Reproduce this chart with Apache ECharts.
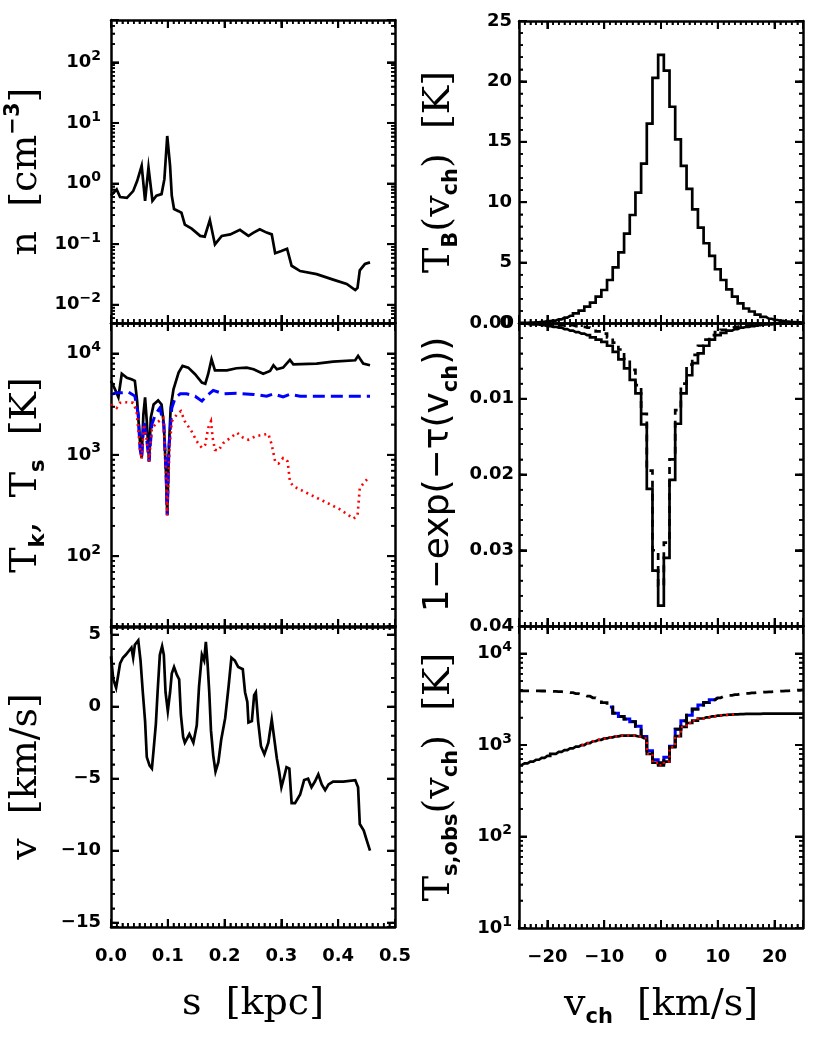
<!DOCTYPE html>
<html>
<head>
<meta charset="utf-8">
<script src="https://cdn.jsdelivr.net/npm/echarts/dist/echarts.min.js"></script>
</head>
<body style="margin:0">
<div id="chart" style="width:830px;height:1039px"></div>
<script>
// ---- left column: profiles along the sightline, s [kpc] ----
const nProfile = [
  [0, 0.63], [0.010, 0.8], [0.016, 0.6], [0.028, 0.58], [0.039, 0.75], [0.046, 1.1],
  [0.054, 1.96], [0.060, 0.52], [0.066, 1.84], [0.073, 0.52], [0.080, 0.63], [0.089, 0.67],
  [0.094, 1.18], [0.099, 6.1], [0.104, 1.96], [0.107, 0.63], [0.111, 0.38], [0.119, 0.35],
  [0.124, 0.33], [0.130, 0.21], [0.142, 0.18], [0.157, 0.137], [0.165, 0.133], [0.174, 0.25],
  [0.183, 0.099], [0.195, 0.137], [0.210, 0.145], [0.227, 0.172], [0.242, 0.137], [0.251, 0.155],
  [0.262, 0.176], [0.274, 0.155], [0.283, 0.145], [0.289, 0.071], [0.300, 0.077], [0.310, 0.084],
  [0.318, 0.044], [0.333, 0.036], [0.362, 0.032], [0.391, 0.026], [0.415, 0.022], [0.430, 0.0175],
  [0.434, 0.019], [0.438, 0.037], [0.447, 0.047], [0.456, 0.05]
];
const tKin = [
  [0, 5370], [0.007, 4440], [0.013, 3700], [0.019, 6320], [0.028, 5770], [0.036, 5560],
  [0.042, 5370], [0.046, 3390], [0.051, 1360], [0.054, 930], [0.057, 2500], [0.060, 3700],
  [0.063, 2140], [0.067, 860], [0.070, 2310], [0.075, 3140], [0.083, 3440], [0.089, 3140],
  [0.093, 2000], [0.097, 632], [0.099, 253], [0.102, 1170], [0.105, 2900], [0.110, 4440],
  [0.119, 6470], [0.126, 7540], [0.136, 7260], [0.148, 6240], [0.160, 5160], [0.166, 5030],
  [0.171, 6240], [0.177, 8780], [0.183, 6830], [0.204, 6830], [0.221, 7150], [0.239, 7260],
  [0.251, 6990], [0.268, 6320], [0.280, 6730], [0.286, 7660], [0.292, 6990], [0.303, 7260],
  [0.315, 8650], [0.321, 7830], [0.362, 7960], [0.391, 8330], [0.430, 8580], [0.435, 9480],
  [0.444, 7960], [0.456, 7660]
];
const tSpinBlue = [
  [0, 3950], [0.010, 4100], [0.019, 4100], [0.031, 4150], [0.042, 3800], [0.048, 2500],
  [0.051, 1160], [0.054, 930], [0.058, 2140], [0.062, 1580], [0.067, 860], [0.072, 2000],
  [0.078, 2500], [0.086, 2900], [0.093, 2000], [0.097, 632], [0.099, 253], [0.102, 1170],
  [0.107, 2900], [0.113, 3650], [0.122, 4000], [0.133, 4000], [0.148, 3790], [0.160, 3390],
  [0.168, 3800], [0.180, 4320], [0.198, 4000], [0.221, 4050], [0.251, 3950], [0.274, 3790],
  [0.286, 4000], [0.303, 3720], [0.315, 3950], [0.333, 3790], [0.456, 3790]
];
const tSpinRed = [
  [0, 3140], [0.010, 2900], [0.016, 3260], [0.028, 3300], [0.039, 3260], [0.045, 2700],
  [0.051, 1160], [0.054, 905], [0.058, 2000], [0.063, 1400], [0.067, 860], [0.072, 1820],
  [0.080, 2060], [0.092, 2310], [0.097, 632], [0.099, 253], [0.103, 1170], [0.107, 2140],
  [0.116, 2500], [0.123, 2700], [0.130, 2140], [0.142, 1700], [0.151, 1360], [0.160, 1170],
  [0.166, 1260], [0.171, 1840], [0.176, 2140], [0.179, 1470], [0.183, 1120], [0.189, 1100],
  [0.198, 1310], [0.210, 1470], [0.222, 1650], [0.233, 1470], [0.242, 1410], [0.254, 1520],
  [0.268, 1580], [0.277, 1610], [0.283, 1260], [0.289, 860], [0.295, 820], [0.303, 930],
  [0.311, 860], [0.315, 545], [0.321, 490], [0.345, 420], [0.374, 350], [0.403, 290],
  [0.427, 235], [0.434, 250], [0.438, 470], [0.447, 545], [0.453, 590]
];
const vProfile = [
  [0, 3.5], [0.004, 1.9], [0.009, 1.3], [0.016, 3.0], [0.021, 3.4], [0.026, 3.6], [0.032, 3.9],
  [0.036, 4.1], [0.039, 3.4], [0.042, 4.3], [0.048, 4.6], [0.052, 3.2], [0.056, 1.0], [0.060, -1.0],
  [0.063, -3.5], [0.068, -4.1], [0.072, -4.3], [0.075, -3.0], [0.079, -1.2], [0.082, 1.0],
  [0.086, 3.6], [0.090, 4.2], [0.093, 3.6], [0.096, 1.0], [0.100, -0.3], [0.104, 1.0],
  [0.107, 2.3], [0.111, 2.75], [0.116, 2.2], [0.120, 1.9], [0.123, -0.55], [0.127, -2.1],
  [0.130, -2.5], [0.138, -1.9], [0.145, -2.5], [0.151, -1.3], [0.155, 1.4], [0.160, 3.6],
  [0.164, 3.2], [0.167, 4.5], [0.170, 3.0], [0.173, 1.0], [0.176, -1.65], [0.180, -3.4],
  [0.184, -4.5], [0.189, -3.85], [0.194, -2.3], [0.201, -0.8], [0.207, 1.4], [0.212, 3.4],
  [0.218, 3.2], [0.224, 2.75], [0.232, 2.6], [0.236, 1.0], [0.240, 0.33], [0.242, -1.1],
  [0.248, -1.0], [0.252, 0.8], [0.255, 1.0], [0.259, -1.0], [0.264, -2.75], [0.270, -3.3],
  [0.277, -2.5], [0.283, -0.9], [0.287, -2.1], [0.292, -3.6], [0.296, -4.5], [0.300, -5.6],
  [0.305, -4.85], [0.309, -4.2], [0.314, -4.3], [0.318, -6.7], [0.324, -6.7], [0.333, -6.1],
  [0.340, -5.1], [0.347, -5.0], [0.353, -5.6], [0.359, -5.2], [0.365, -4.7], [0.371, -5.4],
  [0.377, -5.8], [0.383, -5.4], [0.391, -5.2], [0.409, -5.2], [0.430, -5.1], [0.435, -5.6],
  [0.438, -8.15], [0.445, -8.6], [0.450, -9.25], [0.456, -10.0]
];

// ---- right column: spectra on velocity channels ----
const vch = [-25, -24, -23, -22, -21, -20, -19, -18, -17, -16, -15, -14, -13, -12, -11, -10,
  -9, -8, -7, -6, -5, -4, -3, -2, -1, 0, 1, 2, 3, 4, 5, 6, 7, 8, 9, 10, 11, 12, 13, 14, 15,
  16, 17, 18, 19, 20, 21, 22, 23, 24, 25];
const tbSpec = [0.01, 0.02, 0.04, 0.06, 0.1, 0.15, 0.2, 0.3, 0.45, 0.6, 0.8, 1.02, 1.35, 1.68,
  2.18, 2.73, 3.56, 4.6, 5.85, 7.4, 8.94, 10.8, 13.2, 16.5, 20.3, 22.2, 20.9, 17.9, 15.2, 13.0,
  11.1, 9.4, 7.9, 6.6, 5.55, 4.45, 3.56, 2.79, 2.18, 1.63, 1.2, 0.95, 0.7, 0.5, 0.35, 0.25,
  0.18, 0.12, 0.08, 0.05, 0.03];
const absSolid = [0.0001, 0.0001, 0.0002, 0.0002, 0.0003, 0.0004, 0.0005, 0.0006, 0.0008,
  0.001, 0.0012, 0.0014, 0.0016, 0.0019, 0.0022, 0.0025, 0.003, 0.0038, 0.0048, 0.006, 0.0075,
  0.0093, 0.0134, 0.0219, 0.0327, 0.0373, 0.031, 0.0207, 0.0133, 0.0093, 0.0069, 0.0053, 0.004,
  0.003, 0.0022, 0.0016, 0.0013, 0.001, 0.0008, 0.0006, 0.0005, 0.0004, 0.0003, 0.0002, 0.0002,
  0.0001, 0.0001, 0.0001, 0.0001, 0.0001, 0.0001];
const absDashed = [0.0001, 0.0001, 0.0001, 0.0001, 0.0002, 0.0002, 0.0002, 0.0003, 0.0003,
  0.0003, 0.0004, 0.0005, 0.0006, 0.0008, 0.0011, 0.0014, 0.0019, 0.0026, 0.0035, 0.0047,
  0.0062, 0.0082, 0.012, 0.0195, 0.03, 0.0347, 0.029, 0.018, 0.0115, 0.008, 0.0055, 0.0042,
  0.003, 0.0022, 0.0016, 0.0012, 0.0009, 0.0007, 0.0005, 0.0004, 0.0003, 0.0003, 0.0002,
  0.0002, 0.0001, 0.0001, 0.0001, 0.0001, 0.0001, 0.0001, 0.0001];
const tsObsUpper = [3910, 3910, 3905, 3900, 3895, 3885, 3860, 3830, 3790, 3730, 3650, 3550,
  3420, 3280, 3120, 2900, 2600, 2230, 2050, 1920, 1800, 1600, 1240, 865, 690, 636, 734, 970,
  1490, 1840, 2120, 2470, 2730, 2920, 3120, 3280, 3400, 3490, 3560, 3620, 3670, 3710, 3750,
  3790, 3820, 3850, 3880, 3910, 3940, 3970, 4000];
const tsObsLower = [605, 630, 660, 690, 725, 760, 800, 840, 880, 920, 960, 1000, 1050, 1100,
  1140, 1180, 1215, 1245, 1265, 1270, 1265, 1240, 1190, 800, 640, 600, 660, 950, 1250, 1580,
  1740, 1850, 1950, 2010, 2060, 2100, 2130, 2150, 2165, 2175, 2185, 2190, 2195, 2200, 2200,
  2200, 2200, 2200, 2200, 2200, 2200];
const blueVch = [-9, 10];   // channel span of the blue overlay
const redVch = [-14, 13];   // channel span of the red overlay

// ---- tick label helpers ----
const FONT = 'DejaVu Sans';
const minus = v => String(v).replace('-', '\u2212');
const logLabel = v => {
  const e = Math.round(Math.log10(v));
  if (Math.abs(v / Math.pow(10, e) - 1) > 1e-6) return '';
  return '{b|10}{e|' + minus(e) + '}';
};
const tickRich = {
  b: { fontFamily: FONT, fontSize: 18, fontWeight: 'bold', lineHeight: 26, color: '#000' },
  e: { fontFamily: FONT, fontSize: 14, fontWeight: 'bold', lineHeight: 14, verticalAlign: 'top', color: '#000' }
};
const nameRich = {
  a: { fontFamily: 'DejaVu Serif', fontSize: 38, lineHeight: 46, color: '#000' },
  s: { fontFamily: 'DejaVu Sans', fontSize: 36, lineHeight: 46, color: '#000' },
  sub: { fontFamily: 'DejaVu Sans', fontSize: 21, fontWeight: 'bold', lineHeight: 21, verticalAlign: 'bottom', color: '#000' },
  sup: { fontFamily: 'DejaVu Sans', fontSize: 21, fontWeight: 'bold', lineHeight: 21, verticalAlign: 'top', color: '#000' }
};

const grids = [
  { left: 111, top: 20, width: 284, height: 303 },
  { left: 111, top: 323, width: 284, height: 304 },
  { left: 111, top: 626, width: 284, height: 301 },
  { left: 519, top: 21, width: 284, height: 302 },
  { left: 519, top: 323, width: 284, height: 303 },
  { left: 519, top: 626, width: 284, height: 302 }
].map(g => Object.assign({ outerBoundsMode: 'none', containLabel: false }, g));

function axis(g, pos, cfg, label) {
  const a = Object.assign({
    gridIndex: g, position: pos, type: 'value',
    axisLine: { show: true, onZero: false, lineStyle: { color: '#000', width: 2.5 } },
    axisTick: { show: true, inside: true, length: 8, lineStyle: { color: '#000', width: 2 } },
    minorTick: { show: true, splitNumber: cfg.minor || 5, length: 4, lineStyle: { color: '#000', width: 1.5 } },
    splitLine: { show: false },
    axisLabel: { show: false }
  }, cfg);
  if (label) {
    a.axisLabel = Object.assign({ show: true, color: '#000', fontFamily: FONT, fontSize: 18,
      fontWeight: 'bold', rich: tickRich }, label);
  }
  delete a.minor;
  return a;
}

const xAxes = [];
const yAxes = [];
function panel(g, xCfg, yCfg, xLabel, yLabel) {
  xAxes.push(axis(g, 'bottom', xCfg, xLabel));
  const xTop = Object.assign({}, xCfg); delete xTop.name;
  xAxes.push(axis(g, 'top', xTop, null));
  yAxes.push(axis(g, 'left', yCfg, yLabel));
  const yRight = Object.assign({}, yCfg); delete yRight.name;
  yAxes.push(axis(g, 'right', yRight, null));
}

const sAxis = { min: 0, max: 0.5, interval: 0.1, minor: 10 };
const vchAxis = { min: -25, max: 25, splitNumber: 5, minor: 10 };
const yName = (name, gap) => ({ name: name, nameLocation: 'middle', nameRotate: 90, nameGap: gap,
  nameTextStyle: { rich: nameRich } });

panel(0, sAxis, Object.assign({ type: 'log', min: 0.005, max: 500, minor: 9 },
  yName('{a|n  [cm}{sup|\u22123}{a|]}', 62)), null, { formatter: logLabel, margin: 10 });
panel(1, sAxis, Object.assign({ type: 'log', min: 20, max: 20000, minor: 9 },
  yName('{a|T}{sub|k}{a|,  T}{sub|s}{a|  [K]}', 62)), null, { formatter: logLabel, margin: 10 });
panel(2, Object.assign({ name: '{a|s  [kpc]}', nameLocation: 'middle', nameGap: 54,
  nameTextStyle: { rich: nameRich } }, sAxis),
  Object.assign({ min: -15.3, max: 5.6, splitNumber: 5, minor: 5 }, yName('{a|v  [km/s]}', 62)),
  { formatter: v => v.toFixed(1), margin: 20 },
  { formatter: v => (Math.abs(v % 5) < 1e-9 ? minus(v) : ''), margin: 10 });
panel(3, vchAxis, Object.assign({ min: 0, max: 25, interval: 5, minor: 5 },
  yName('{a|T}{sub|B}{a|(v}{sub|ch}{a|)  [K]}', 57)), null, { formatter: v => String(v), margin: 7 });
panel(4, vchAxis, Object.assign({ min: 0, max: 0.04, interval: 0.01, inverse: true, minor: 5 },
  yName('{s|1\u2212exp(\u2212\u03c4(v}{sub|ch}{s|))}', 57)), null, { formatter: v => v.toFixed(2), margin: 5 });
panel(5, Object.assign({ name: '{a|v}{sub|ch}{a|  [km/s]}', nameLocation: 'middle', nameGap: 54,
  nameTextStyle: { rich: nameRich } }, vchAxis),
  Object.assign({ type: 'log', min: 10, max: 20000, minor: 9 },
    yName('{a|T}{sub|s,obs}{a|(v}{sub|ch}{a|)  [K]}', 57)),
  { formatter: v => (v % 10 === 0 ? minus(v) : ''), margin: 20 },
  { formatter: logLabel, margin: 7 });

const pairs = (xs, ys) => xs.map((x, i) => [x, ys[i]]);
const span = (ys, r) => pairs(vch, ys).filter(p => p[0] >= r[0] && p[0] <= r[1]);

function line(g, data, color, width, type, step) {
  const s = {
    type: 'line', xAxisIndex: 2 * g, yAxisIndex: 2 * g, data: data,
    symbol: 'none', silent: true,
    lineStyle: { color: color, width: width, type: type || 'solid', cap: 'butt', join: 'miter' }
  };
  if (step) s.step = 'middle';
  return s;
}

const option = {
  animation: false,
  backgroundColor: '#fff',
  title: { text: '' },
  grid: grids,
  xAxis: xAxes,
  yAxis: yAxes,
  series: [
    line(0, nProfile, '#000', 2.7),
    line(1, tKin, '#000', 2.7),
    line(1, tSpinBlue, '#0000ff', 3, [12, 6]),
    line(1, tSpinRed, '#ff0000', 2.6, [2, 4]),
    line(2, vProfile, '#000', 2.7),
    line(3, pairs(vch, tbSpec), '#000', 2.7, 'solid', true),
    line(4, pairs(vch, absSolid), '#000', 2.7, 'solid', true),
    line(4, pairs(vch, absDashed), '#000', 2.7, [7, 6], true),
    line(5, span(tsObsUpper, blueVch), '#0000ff', 3, 'solid', true),
    line(5, pairs(vch, tsObsUpper), '#000', 2.8, [10, 7], true),
    line(5, pairs(vch, tsObsLower), '#000', 2.7, 'solid', true),
    line(5, span(tsObsLower, redVch), '#ff0000', 2.4, [2, 4], true)
  ]
};

const chart = echarts.init(document.getElementById('chart'));
chart.setOption(option);

// ---- inward tick marks on all four sides, placed with the chart's own axis scales ----
const steps = (a, b, st) => { const out = []; for (let i = 0; a + i * st <= b + 1e-9; i++) out.push(+(a + i * st).toFixed(6)); return out; };
const logMajor = (lo, hi) => steps(Math.ceil(Math.log10(lo)), Math.floor(Math.log10(hi)), 1).map(e => Math.pow(10, e));
const logMinor = (lo, hi) => {
  const out = [];
  for (let e = Math.floor(Math.log10(lo)); e <= Math.ceil(Math.log10(hi)); e++) {
    for (let m = 2; m <= 9; m++) { const v = m * Math.pow(10, e); if (v >= lo && v <= hi) out.push(v); }
  }
  return out;
};
const sMaj = steps(0, 0.5, 0.1), sMin = steps(0, 0.5, 0.01);
const vMaj = [-20, -10, 0, 10, 20], vMin = steps(-25, 25, 1);
const panelTicks = [
  { series: 0, xr: [0, 0.5], yr: [0.005, 500], xMaj: sMaj, xMin: sMin, yMaj: logMajor(0.005, 500), yMin: logMinor(0.005, 500) },
  { series: 1, xr: [0, 0.5], yr: [20, 20000], xMaj: sMaj, xMin: sMin, yMaj: logMajor(20, 20000), yMin: logMinor(20, 20000) },
  { series: 4, xr: [0, 0.5], yr: [-15.3, 5.6], xMaj: sMaj, xMin: sMin, yMaj: steps(-15, 5, 5), yMin: steps(-15, 5, 1) },
  { series: 5, xr: [-25, 25], yr: [0, 25], xMaj: vMaj, xMin: vMin, yMaj: steps(0, 25, 5), yMin: steps(0, 25, 1) },
  { series: 6, xr: [-25, 25], yr: [0, 0.04], xMaj: vMaj, xMin: vMin, yMaj: steps(0, 0.04, 0.01), yMin: steps(0, 0.04, 0.002) },
  { series: 8, xr: [-25, 25], yr: [10, 20000], xMaj: vMaj, xMin: vMin, yMaj: logMajor(10, 20000), yMin: logMinor(10, 20000) }
];
const tickEls = [];
function seg(x1, y1, x2, y2, w) {
  tickEls.push({ type: 'line', silent: true, z: 50,
    shape: { x1: x1, y1: y1, x2: x2, y2: y2 }, style: { stroke: '#000', lineWidth: w } });
}
try {
  panelTicks.forEach(p => {
    const px = v => chart.convertToPixel({ seriesIndex: p.series }, v);
    const xTick = (v, len, w) => {
      const a = px([v, p.yr[0]]), b = px([v, p.yr[1]]);
      const d = b[1] > a[1] ? 1 : -1;
      seg(a[0], a[1], a[0], a[1] + d * len, w);
      seg(b[0], b[1], b[0], b[1] - d * len, w);
    };
    const yTick = (v, len, w) => {
      const a = px([p.xr[0], v]), b = px([p.xr[1], v]);
      seg(a[0], a[1], a[0] + len, a[1], w);
      seg(b[0], b[1], b[0] - len, b[1], w);
    };
    p.xMaj.forEach(v => xTick(v, 8, 2));
    p.xMin.forEach(v => xTick(v, 4, 1.5));
    p.yMaj.forEach(v => yTick(v, 8, 2));
    p.yMin.forEach(v => yTick(v, 4, 1.5));
  });
  chart.setOption({ graphic: { elements: tickEls } });
} catch (e) {
  console.log('tick marks failed', e);
}
</script>
</body>
</html>
